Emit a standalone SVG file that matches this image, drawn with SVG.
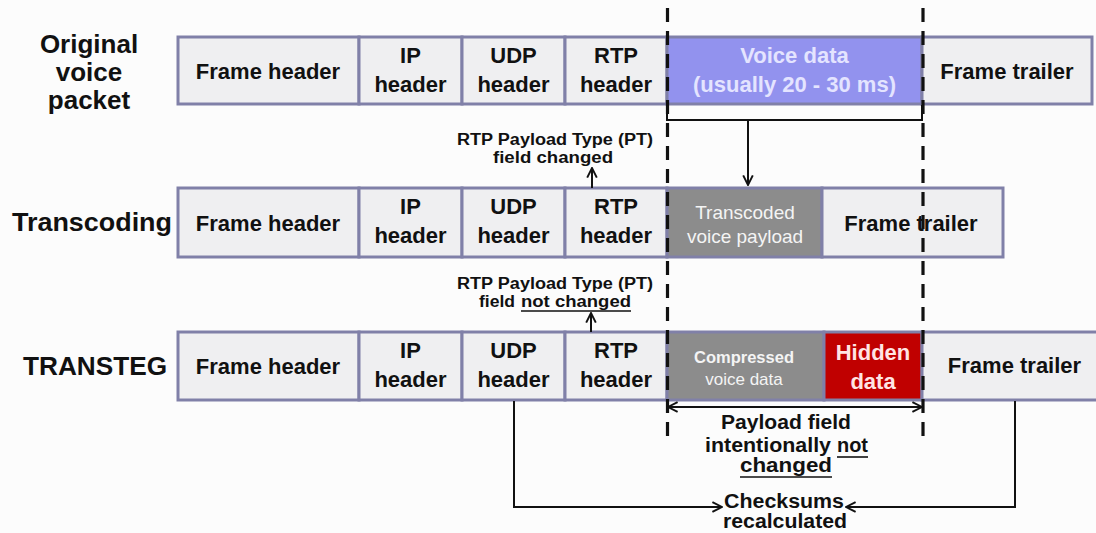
<svg xmlns="http://www.w3.org/2000/svg" width="1096" height="533" viewBox="0 0 1096 533">
  <defs>
    <marker id="open-arrow" viewBox="0 0 10 10" refX="9" refY="5" markerWidth="12" markerHeight="12" markerUnits="userSpaceOnUse" orient="auto-start-reverse">
      <path d="M1,1 L9,5 L1,9" fill="none" stroke="#111" stroke-width="1.6"/>
    </marker>
    <style>
      .cell { fill: #efeff1; stroke: #8080a8; stroke-width: 3; }
      .voice { fill: #9292ee; stroke: #8080a8; stroke-width: 3; }
      .grey { fill: #8c8c8c; stroke: #8080a8; stroke-width: 3; }
      .hidden { fill: #c00000; stroke: #8080a8; stroke-width: 3; }
      text { font-family: "Liberation Sans", Arial, sans-serif; font-weight: bold; fill: #111; }
      .lbl { font-size: 22px; text-anchor: middle; }
      .row { font-size: 26px; }
      .note { font-size: 16px; }
      .big { font-size: 20px; }
      .light { fill: #e4e4ff; }
      .white { fill: #f4f4f4; text-anchor: middle; }
      .thin { font-weight: normal; }
      .pink { fill: #ffe4e4; }
      .line { fill: none; stroke: #111; stroke-width: 2; }
      .dash { fill: none; stroke: #111; stroke-width: 3.2; stroke-dasharray: 14 9; }
      .ul { stroke: #111; stroke-width: 1.6; }
    </style>
  </defs>

  <rect width="1096" height="533" fill="#fcfcfc"/>

  <!-- row captions -->
  <g id="label-original">
    <text class="row" x="89" y="53" text-anchor="middle">Original</text>
    <text class="row" x="89" y="81" text-anchor="middle">voice</text>
    <text class="row" x="89" y="109" text-anchor="middle">packet</text>
  </g>
  <g id="label-transcoding">
    <text class="row" x="12" y="231" textLength="160" lengthAdjust="spacingAndGlyphs">Transcoding</text>
  </g>
  <g id="label-transteg">
    <text class="row" x="23" y="375" textLength="144" lengthAdjust="spacingAndGlyphs">TRANSTEG</text>
  </g>

  <!-- packet 1: original voice packet -->
  <g id="packet-original">
    <rect class="cell" x="178" y="37" width="181" height="67"/>
    <rect class="cell" x="359" y="37" width="103" height="67"/>
    <rect class="cell" x="462" y="37" width="103" height="67"/>
    <rect class="cell" x="565" y="37" width="102" height="67"/>
    <rect class="voice" x="667" y="37" width="255" height="67"/>
    <rect class="cell" x="922" y="37" width="170" height="67"/>
    <text class="lbl" x="268" y="79">Frame header</text>
    <text class="lbl" x="410.5" y="63">IP</text>
    <text class="lbl" x="410.5" y="92">header</text>
    <text class="lbl" x="513.5" y="63">UDP</text>
    <text class="lbl" x="513.5" y="92">header</text>
    <text class="lbl" x="616" y="63">RTP</text>
    <text class="lbl" x="616" y="92">header</text>
    <text class="lbl light" x="794.5" y="63">Voice data</text>
    <text class="lbl light" x="794.5" y="92">(usually 20 - 30 ms)</text>
    <text class="lbl" x="1007" y="79">Frame trailer</text>
  </g>

  <!-- packet 2: transcoding -->
  <g id="packet-transcoding">
    <rect class="cell" x="178" y="188" width="181" height="69"/>
    <rect class="cell" x="359" y="188" width="103" height="69"/>
    <rect class="cell" x="462" y="188" width="103" height="69"/>
    <rect class="cell" x="565" y="188" width="102" height="69"/>
    <rect class="grey" x="667" y="188" width="155" height="69"/>
    <rect class="cell" x="822" y="188" width="181" height="69"/>
    <text class="lbl" x="268" y="231">Frame header</text>
    <text class="lbl" x="410.5" y="214">IP</text>
    <text class="lbl" x="410.5" y="243">header</text>
    <text class="lbl" x="513.5" y="214">UDP</text>
    <text class="lbl" x="513.5" y="243">header</text>
    <text class="lbl" x="616" y="214">RTP</text>
    <text class="lbl" x="616" y="243">header</text>
    <text class="white thin" x="745" y="219" font-size="19">Transcoded</text>
    <text class="white thin" x="745" y="243" font-size="19">voice payload</text>
    <text class="lbl" x="911" y="231">Frame trailer</text>
  </g>

  <!-- packet 3: TRANSTEG -->
  <g id="packet-transteg">
    <rect class="cell" x="178" y="332" width="181" height="68"/>
    <rect class="cell" x="359" y="332" width="103" height="68"/>
    <rect class="cell" x="462" y="332" width="103" height="68"/>
    <rect class="cell" x="565" y="332" width="102" height="68"/>
    <rect class="grey" x="667" y="332" width="157" height="68"/>
    <rect class="hidden" x="824" y="332" width="98" height="68"/>
    <rect class="cell" x="922" y="332" width="180" height="68"/>
    <text class="lbl" x="268" y="374">Frame header</text>
    <text class="lbl" x="410.5" y="358">IP</text>
    <text class="lbl" x="410.5" y="387">header</text>
    <text class="lbl" x="513.5" y="358">UDP</text>
    <text class="lbl" x="513.5" y="387">header</text>
    <text class="lbl" x="616" y="358">RTP</text>
    <text class="lbl" x="616" y="387">header</text>
    <text class="white" x="744" y="363" font-size="16.5">Compressed</text>
    <text class="white thin" x="744" y="385" font-size="17">voice data</text>
    <text class="lbl pink" x="873" y="360">Hidden</text>
    <text class="lbl pink" x="873" y="389">data</text>
    <text class="lbl" x="1014.5" y="373">Frame trailer</text>
  </g>

  <!-- annotations -->
  <g id="note-pt-changed">
    <text class="note" x="457" y="145" textLength="196" lengthAdjust="spacingAndGlyphs">RTP Payload Type (PT)</text>
    <text class="note" x="493" y="163" textLength="120" lengthAdjust="spacingAndGlyphs">field changed</text>
  </g>
  <g id="note-pt-not-changed">
    <text class="note" x="457" y="289" textLength="196" lengthAdjust="spacingAndGlyphs">RTP Payload Type (PT)</text>
    <text class="note" x="479" y="307" textLength="36" lengthAdjust="spacingAndGlyphs">field</text>
    <text class="note" x="521" y="307" textLength="110" lengthAdjust="spacingAndGlyphs">not changed</text>
    <line class="ul" x1="521" y1="311" x2="631" y2="311"/>
  </g>
  <g id="note-payload">
    <text class="big" x="786" y="429" text-anchor="middle" textLength="130" lengthAdjust="spacingAndGlyphs">Payload field</text>
    <text class="big" x="705" y="452" textLength="126" lengthAdjust="spacingAndGlyphs">intentionally</text>
    <text class="big" x="837" y="452" textLength="31" lengthAdjust="spacingAndGlyphs">not</text>
    <line class="ul" x1="837" y1="457" x2="868" y2="457"/>
    <text class="big" x="740" y="472" textLength="92" lengthAdjust="spacingAndGlyphs">changed</text>
    <line class="ul" x1="740" y1="477" x2="832" y2="477"/>
  </g>
  <g id="note-checksums">
    <text class="big" x="784" y="508" text-anchor="middle" textLength="120" lengthAdjust="spacingAndGlyphs">Checksums</text>
    <text class="big" x="785" y="528" text-anchor="middle" textLength="124" lengthAdjust="spacingAndGlyphs">recalculated</text>
  </g>

  <!-- connectors -->
  <g id="connectors">
    <path class="line" d="M667,105 V120 H922 V105"/>
    <path class="line" d="M748,120 V185" marker-end="url(#open-arrow)"/>
    <path class="line" d="M592,188 V168" marker-end="url(#open-arrow)"/>
    <path class="line" d="M591,332 V313" marker-end="url(#open-arrow)"/>
    <path class="line" d="M668,407 H922" marker-start="url(#open-arrow)" marker-end="url(#open-arrow)"/>
    <path class="line" d="M514,401 V507 H722" marker-end="url(#open-arrow)"/>
    <path class="line" d="M1015,401 V507 H846" marker-end="url(#open-arrow)"/>
    <!-- payload boundaries -->
    <line class="dash" x1="667.5" y1="8" x2="667.5" y2="438"/>
    <line class="dash" x1="923" y1="8" x2="923" y2="438"/>
  </g>
</svg>
